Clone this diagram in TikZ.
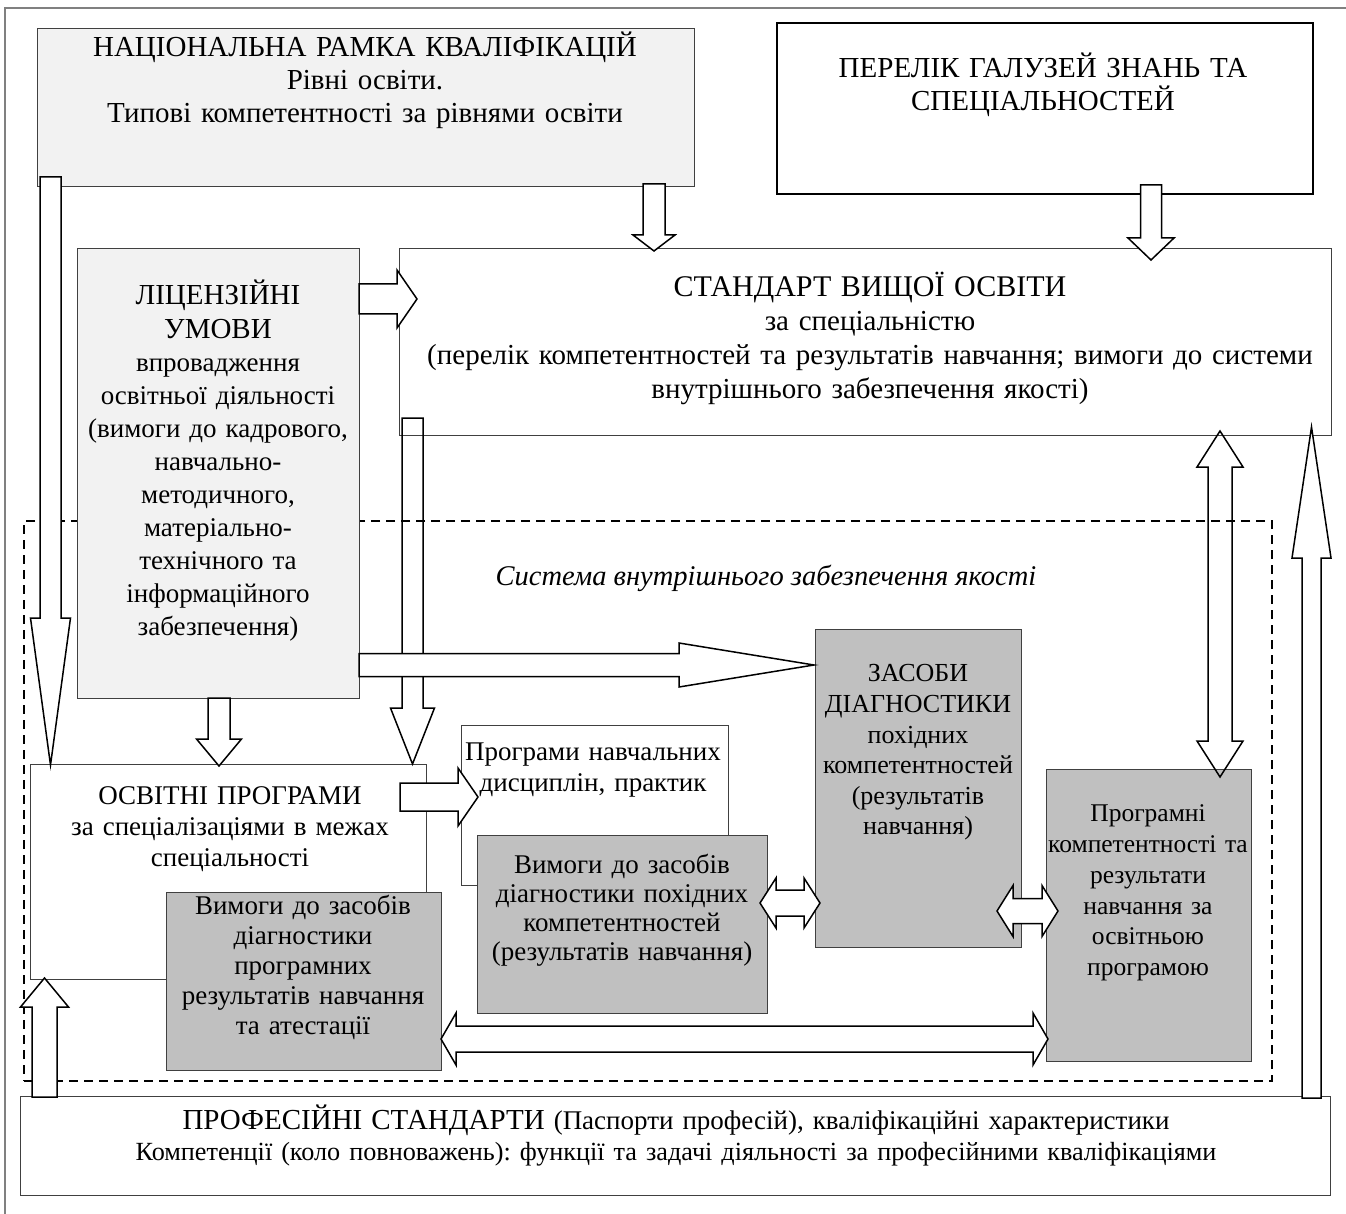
\documentclass[tikz,border=0pt]{standalone}
\usepackage{fontspec}
\setmainfont{Liberation Serif}
\usetikzlibrary{calc}
\definecolor{lightfill}{HTML}{F2F2F2}
\definecolor{darkfill}{HTML}{C0C0C0}
\definecolor{boxline}{HTML}{404040}
\definecolor{framegray}{HTML}{808080}
\newcommand{\headfs}{\fontsize{29}{33}\selectfont}
\newcommand{\bodyfs}{\fontsize{27}{31}\selectfont}
\frenchspacing
% block arrow: tail, tip, half shaft, half head, head length
\newcommand{\blockarrow}[6][]{%
  \draw[blockar,#1] ($(#2)!#4pt!90:(#3)$) -- ($(#3)!#6pt!(#2)!#4pt!-90:(#2)$)
    -- ($(#3)!#6pt!(#2)!#5pt!-90:(#2)$) -- (#3) -- ($(#3)!#6pt!(#2)!#5pt!90:(#2)$)
    -- ($(#3)!#6pt!(#2)!#4pt!90:(#2)$) -- ($(#2)!#4pt!-90:(#3)$) -- cycle;}
% double block arrow: end, end, half shaft, half head, head length
\newcommand{\doublearrow}[6][]{%
  \draw[blockar,#1] (#2) -- ($(#2)!#6pt!(#3)!#5pt!90:(#3)$) -- ($(#2)!#6pt!(#3)!#4pt!90:(#3)$)
    -- ($(#3)!#6pt!(#2)!#4pt!-90:(#2)$) -- ($(#3)!#6pt!(#2)!#5pt!-90:(#2)$) -- (#3)
    -- ($(#3)!#6pt!(#2)!#5pt!90:(#2)$) -- ($(#3)!#6pt!(#2)!#4pt!90:(#2)$)
    -- ($(#2)!#6pt!(#3)!#4pt!-90:(#3)$) -- ($(#2)!#6pt!(#3)!#5pt!-90:(#3)$) -- cycle;}
\begin{document}
\begin{tikzpicture}[x=1pt,y=-1pt]
    \tikzstyle{box}=[draw=boxline, line width=1pt, fill=white, anchor=north west, inner sep=0pt]
    \tikzstyle{lightbox}=[box, fill=lightfill]
    \tikzstyle{darkbox}=[box, fill=darkfill]
    \tikzstyle{qabox}=[draw=black, line width=2pt, dash pattern=on 9pt off 6pt, anchor=north west, inner sep=0pt]
    \tikzstyle{txt}=[inner sep=0pt, align=center, font=\bodyfs]
    \tikzstyle{blockar}=[draw=black, line width=1.5pt, fill=white, line join=miter]
    \useasboundingbox (0,0) rectangle (1346,1214);
    \fill[white] (0,0) rectangle (1346,1214);
    \draw[framegray, line width=2pt] (5,1214) -- (5,8) -- (1346,8);
    % quality system frame
    \node[qabox, minimum width=1248pt, minimum height=560pt] (qa) at (23,520) {};
    \node[txt, font=\fontsize{28.5}{32}\selectfont\itshape] (qa-t) at (766,578)
      {Система внутрішнього забезпечення якості};
    % boxes
    \node[lightbox, minimum width=657pt, minimum height=158pt] (nrk) at (37,28) {};
    \node[box, draw=black, line width=2pt, minimum width=536pt, minimum height=171pt] (perelik) at (776,22) {};
    \node[box, minimum width=932pt, minimum height=187pt] (std) at (399,248) {};
    \node[lightbox, minimum width=282pt, minimum height=450pt] (lic) at (77,248) {};
    \node[box, minimum width=396pt, minimum height=215pt] (osv) at (30,764) {};
    \node[box, minimum width=267pt, minimum height=160pt] (progn) at (461,725) {};
    \node[darkbox, minimum width=290pt, minimum height=178pt] (vymp) at (477,835) {};
    \node[darkbox, minimum width=275pt, minimum height=178pt] (vympr) at (166,892) {};
    \node[darkbox, minimum width=206pt, minimum height=318pt] (zas) at (815,629) {};
    \node[darkbox, minimum width=205pt, minimum height=292pt] (prgm) at (1046,769) {};
    \node[box, minimum width=1310pt, minimum height=99pt] (prof) at (20,1096) {};
    % texts
    \node[txt, font=\headfs, text width=650pt] (nrk-t) at (365,80)
      {НАЦІОНАЛЬНА РАМКА КВАЛІФІКАЦІЙ\\Рівні освіти.\\Типові компетентності за рівнями освіти};
    \node[txt, font=\headfs, text width=530pt] (perelik-t) at (1043,85)
      {ПЕРЕЛІК ГАЛУЗЕЙ ЗНАНЬ ТА\\СПЕЦІАЛЬНОСТЕЙ};
    \node[txt, font=\fontsize{29}{34}\selectfont, text width=1000pt] (std-t) at (870,338)
      {{\fontsize{30}{34}\selectfont СТАНДАРТ ВИЩОЇ ОСВІТИ}\hspace*{16pt}\\за спеціальністю\\(перелік компетентностей та результатів навчання; вимоги до системи\\внутрішнього забезпечення якості)\hspace*{165pt}};
    \node[txt, font=\fontsize{27}{33.1}\selectfont, text width=320pt] (lic-t) at (218,461)
      {{\headfs ЛІЦЕНЗІЙНІ}\\{\headfs УМОВИ}\\впровадження\\освітньої діяльності\\(вимоги до кадрового,\\навчально-\\методичного,\\матеріально-\\технічного та\\інформаційного\\забезпечення)};
    \node[txt, text width=420pt] (osv-t) at (230,829)
      {ОСВІТНІ ПРОГРАМИ\\за спеціалізаціями в межах\\спеціальності};
    \node[txt, text width=320pt] (progn-t) at (593,770) {Програми навчальних\\дисциплін, практик};
    \node[txt, font=\fontsize{27}{29}\selectfont, text width=330pt] (vymp-t) at (622,910)
      {Вимоги до засобів\\діагностики похідних\\компетентностей\\(результатів навчання)};
    \node[txt, font=\fontsize{27}{30}\selectfont, text width=320pt] (vympr-t) at (303,967)
      {Вимоги до засобів\\діагностики\\програмних\\результатів навчання\\та атестації};
    \node[txt, font=\fontsize{26}{30.6}\selectfont, text width=260pt] (zas-t) at (918,752.5)
      {ЗАСОБИ\\ДІАГНОСТИКИ\\похідних\\компетентностей\\(результатів\\навчання)};
    \node[txt, font=\fontsize{25.5}{30.7}\selectfont, text width=260pt] (prgm-t) at (1148,893)
      {Програмні\\компетентності та\\результати\\навчання за\\освітньою\\програмою};
    \node[txt, text width=1320pt] (prof-t) at (676,1136)
      {{\headfs ПРОФЕСІЙНІ СТАНДАРТИ} (Паспорти професій), кваліфікаційні характеристики\\{\fontsize{26.2}{31}\selectfont Компетенції (коло повноважень): функції та задачі діяльності за професійними кваліфікаціями}};
    % arrow ends
    \coordinate (nrk-a) at (50.5,177);   \coordinate (osv-a) at (50.5,765);
    \coordinate (nrk-b) at (654,184);    \coordinate (std-b) at (654,251);
    \coordinate (per-c) at (1151,185);   \coordinate (std-c) at (1151,260);
    \coordinate (lic-d) at (359,299);    \coordinate (std-d) at (417,299);
    \coordinate (std-e) at (412.5,418);  \coordinate (osv-e) at (412.5,764);
    \coordinate (lic-f) at (359,665);    \coordinate (zas-f) at (814,665);
    \coordinate (lic-g) at (219,698);    \coordinate (osv-g) at (219,766);
    \coordinate (osv-h) at (400,797);    \coordinate (prn-h) at (478,797);
    \coordinate (std-i) at (1220,431);   \coordinate (prg-i) at (1220,777);
    \coordinate (vym-j) at (760,903);    \coordinate (zas-j) at (820,903);
    \coordinate (zas-k) at (997,911);    \coordinate (prg-k) at (1058,911);
    \coordinate (vyr-l) at (441,1039);   \coordinate (prg-l) at (1048,1039);
    \coordinate (prof-m) at (44.5,1097); \coordinate (osv-m) at (44.5,978);
    \coordinate (prof-n) at (1311.5,1098); \coordinate (std-n) at (1311.5,427);
    % arrows
    \blockarrow[fill=none]{std-e}{osv-e}{10.5}{22}{56}
    \doublearrow[fill=none]{std-i}{prg-i}{12}{23}{36}
    \blockarrow{nrk-a}{osv-a}{10.5}{20}{147}
    \blockarrow{nrk-b}{std-b}{11}{21}{16}
    \blockarrow{per-c}{std-c}{10.5}{23}{22}
    \blockarrow{lic-d}{std-d}{15}{29}{20}
    \blockarrow{lic-f}{zas-f}{11.5}{22}{135}
    \blockarrow{lic-g}{osv-g}{11}{22.5}{27}
    \blockarrow{osv-h}{prn-h}{14}{29}{20}
    \doublearrow{vym-j}{zas-j}{13}{25}{16}
    \doublearrow{zas-k}{prg-k}{12.5}{25.5}{16}
    \doublearrow{vyr-l}{prg-l}{13}{26}{15}
    \blockarrow{prof-m}{osv-m}{12.5}{24}{29}
    \blockarrow{prof-n}{std-n}{9.5}{19.5}{131}
\end{tikzpicture}
\end{document}
